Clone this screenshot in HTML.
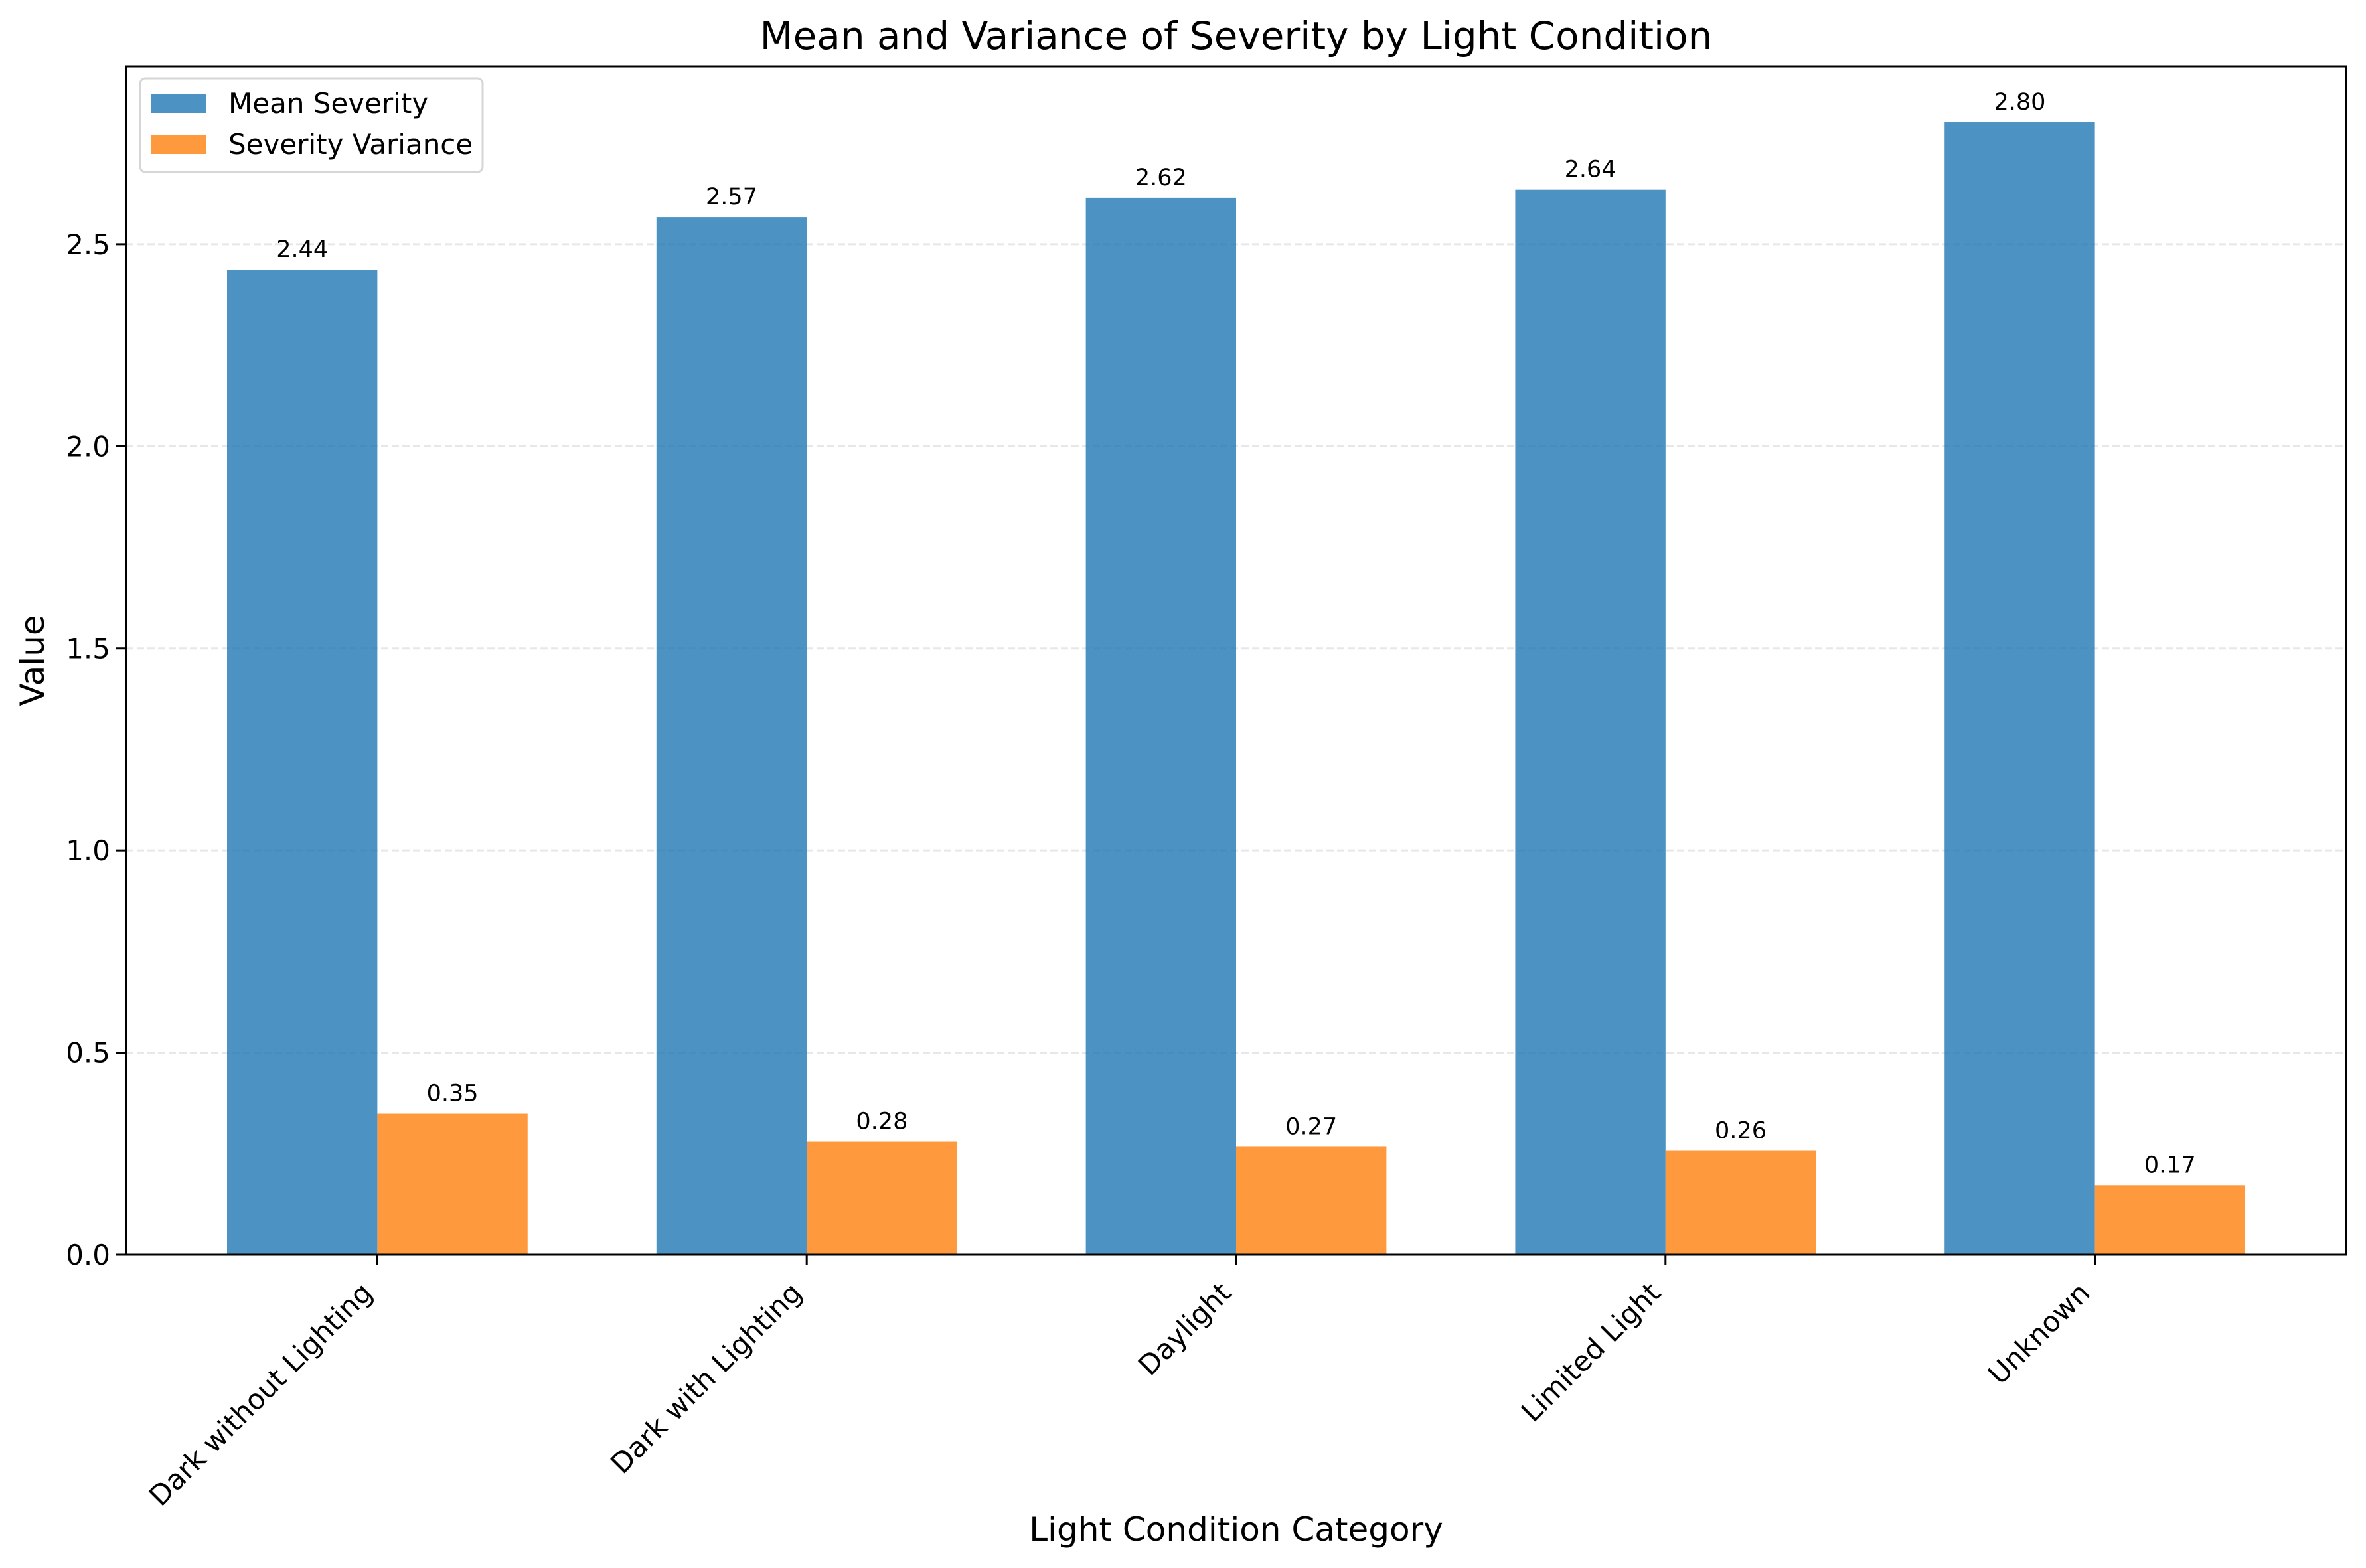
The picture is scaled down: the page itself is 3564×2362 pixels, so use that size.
<!DOCTYPE html>
<html><head><meta charset="utf-8"><style>
html,body{margin:0;padding:0;background:#fff;}
svg{display:block;font-family:"DejaVu Sans","Liberation Sans",sans-serif;}
</style></head><body>
<svg id="chart" width="3564" height="2362" viewBox="0 0 3564 2362" xmlns="http://www.w3.org/2000/svg">
<rect x="0" y="0" width="3564" height="2362" fill="#fff"/>
<text x="1862" y="74" font-size="58" text-anchor="middle" fill="#000">Mean and Variance of Severity by Light Condition</text>
<g id="grid"></g>
<g id="bars"></g>
<g id="labels"></g>
<g id="axes"></g>
<text transform="translate(66,995) rotate(-90)" font-size="50" text-anchor="middle" fill="#000">Value</text>
<text x="1862" y="2321" font-size="50" text-anchor="middle" fill="#000">Light Condition Category</text>
<g>
<rect x="211" y="118" width="516" height="141" rx="8" fill="#fff" fill-opacity="0.8" stroke="#d6d6d6" stroke-width="3"/>
<rect x="228" y="141" width="83" height="29" fill="#1f77b4" fill-opacity="0.8"/>
<text x="344" y="170" font-size="42" fill="#000">Mean Severity</text>
<rect x="228" y="203" width="83" height="29" fill="#ff7f0e" fill-opacity="0.8"/>
<text x="344" y="232" font-size="42" fill="#000">Severity Variance</text>
</g>
</svg>
<script>
const categories = ["Dark without Lighting","Dark with Lighting","Daylight","Limited Light","Unknown"];
const meanValues = [2.437, 2.567, 2.615, 2.635, 2.802];
const varianceValues = [0.349, 0.280, 0.267, 0.257, 0.172];
const meanLabels = ["2.44","2.57","2.62","2.64","2.80"];
const varianceLabels = ["0.35","0.28","0.27","0.26","0.17"];
const yTicks = [0.0, 0.5, 1.0, 1.5, 2.0, 2.5];
const yTickLabels = ["0.0","0.5","1.0","1.5","2.0","2.5"];

const NS = "http://www.w3.org/2000/svg";
const L = 190, R = 3534, T = 100, B = 1890;
const xMin = -0.585, xMax = 4.585, yMin = 0, yMax = 2.94;
const barW = 0.35;
function xs(v){ return L + (v - xMin) / (xMax - xMin) * (R - L); }
function ys(v){ return B - (v - yMin) / (yMax - yMin) * (B - T); }
function mk(tag, attrs, parent){
  const e = document.createElementNS(NS, tag);
  for (const k in attrs) e.setAttribute(k, attrs[k]);
  parent.appendChild(e); return e;
}
const grid = document.getElementById('grid');
const bars = document.getElementById('bars');
const labels = document.getElementById('labels');
const axes = document.getElementById('axes');

yTicks.forEach((t, i) => {
  const y = ys(t);
  if (t > 0) {
    const g = mk('line', {x1:L, x2:R, y1:y, y2:y, stroke:'#b0b0b0', 'stroke-opacity':'0.3', 'stroke-width':'3', 'stroke-dasharray':'11,5'}, grid);
    
    
  }
  const tk = mk('line', {x1:L-15, x2:L, y1:y, y2:y, stroke:'#000', 'stroke-width':'3'}, axes);
  
  
  const tl = mk('text', {x:L-24, y:y+15, 'font-size':'42', 'text-anchor':'end', fill:'#000'}, axes);
  
  
  tl.textContent = yTickLabels[i];
});

categories.forEach((c, i) => {
  const x0 = xs(i - barW), x1 = xs(i), x2 = xs(i + barW);
  const bm = mk('rect', {x:x0, y:ys(meanValues[i]), width:x1-x0, height:ys(0)-ys(meanValues[i]), fill:'#1f77b4', 'fill-opacity':'0.8'}, bars);
  
  
  const bv = mk('rect', {x:x1, y:ys(varianceValues[i]), width:x2-x1, height:ys(0)-ys(varianceValues[i]), fill:'#ff7f0e', 'fill-opacity':'0.8'}, bars);
  
  
  const lm = mk('text', {x:(x0+x1)/2, y:ys(meanValues[i])-19, 'font-size':'35', 'text-anchor':'middle', fill:'#000'}, labels);
  
  
  lm.textContent = meanLabels[i];
  const lv = mk('text', {x:(x1+x2)/2, y:ys(varianceValues[i])-19, 'font-size':'35', 'text-anchor':'middle', fill:'#000'}, labels);
  
  
  lv.textContent = varianceLabels[i];
  const tk = mk('line', {x1:x1, x2:x1, y1:B, y2:B+15, stroke:'#000', 'stroke-width':'3'}, axes);
  
  
  const tl = mk('text', {transform:'translate(' + (x1-5) + ',' + (B+60) + ') rotate(-45)', 'font-size':'42', 'text-anchor':'end', fill:'#000'}, axes);
  
  
  tl.textContent = c;
});

const frame = mk('rect', {x:L, y:T, width:R-L, height:B-T, fill:'none', stroke:'#000', 'stroke-width':'3'}, axes);


</script>
</body></html>
